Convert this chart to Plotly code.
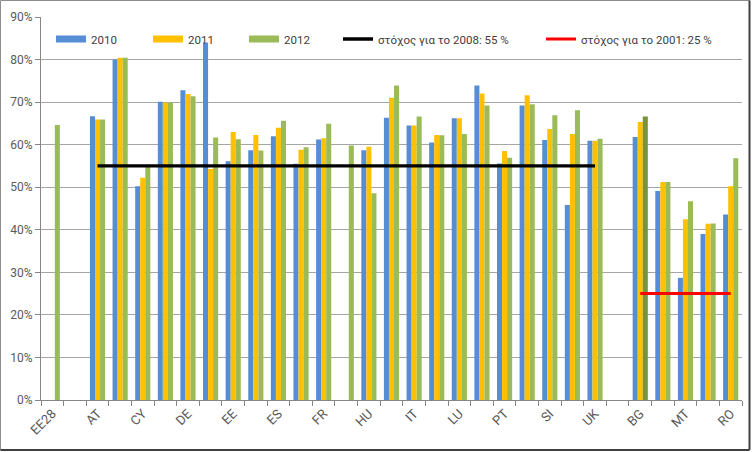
import plotly.graph_objects as go

categories = ["EE28", "gap1", "AT", "BE", "CY", "CZ", "DE", "DK", "EE", "EL", "ES", "FI",
              "FR", "HR", "HU", "IE", "IT", "LT", "LU", "NL", "PT", "SE", "SI", "SK",
              "UK", "gap2", "BG", "LV", "MT", "PL", "RO"]
tick_labels = ["EE28", "", "AT", "", "CY", "", "DE", "", "EE", "", "ES", "", "FR", "",
               "HU", "", "IT", "", "LU", "", "PT", "", "SI", "", "UK", "", "BG", "",
               "MT", "", "RO"]

v2010 = [None, None, 66.7, 80.0, 50.2, 70.1, 72.8, 84.0, 56.1, 58.7, 62.0, 55.5,
         61.2, None, 58.7, 66.3, 64.5, 60.5, 66.2, 73.9, 55.6, 69.2, 61.1, 45.8,
         60.9, None, 61.8, 49.1, 28.7, 39.0, 43.6]
v2011 = [None, None, 65.9, 80.4, 52.2, 69.9, 71.9, 54.3, 63.0, 62.3, 64.0, 58.8,
         61.5, None, 59.5, 71.0, 64.5, 62.3, 66.2, 72.0, 58.5, 71.6, 63.7, 62.5,
         60.9, None, 65.3, 51.2, 42.5, 41.4, 50.2]
v2012 = [64.6, None, 65.9, 80.4, 54.8, 69.9, 71.4, 61.7, 61.3, 58.6, 65.6, 59.4,
         64.9, 59.8, 48.6, 73.9, 66.6, 62.2, 62.5, 69.2, 56.9, 69.5, 66.9, 68.1,
         61.4, None, 66.6, 51.2, 46.7, 41.5, 56.8]

target_2008 = 55
target_2008_countries = categories[categories.index("AT"):categories.index("UK") + 1]
target_2001 = 25
target_2001_countries = categories[categories.index("BG"):categories.index("RO") + 1]

series_names = ["2010", "2011", "2012"]
line_names = ["στόχος για το 2008: 55 %", "στόχος για το 2001: 25 %"]

BLUE = "#558ED5"
YELLOW = "#FFC000"
GREEN = "#9BBB59"
DARKGREEN = "#77933C"

green_colors = [DARKGREEN if c == "BG" else GREEN for c in categories]

FONT = "Roboto"
W, H = 752, 452
ML, MR, MT, MB = 41, 10, 17, 52
PW, PH = W - ML - MR, H - MT - MB

fig = go.Figure()
for name, vals, col in [(series_names[0], v2010, BLUE), (series_names[1], v2011, YELLOW),
                        (series_names[2], v2012, green_colors)]:
    fig.add_trace(go.Bar(x=categories, y=vals, name=name, marker_color=col,
                         marker_line_width=0, showlegend=False))

fig.add_trace(go.Scatter(x=target_2008_countries, y=[target_2008] * len(target_2008_countries),
                         mode="lines", line=dict(color="#000000", width=3.3),
                         showlegend=False))
fig.add_trace(go.Scatter(x=target_2001_countries, y=[target_2001] * len(target_2001_countries),
                         mode="lines", line=dict(color="#FF0000", width=3),
                         showlegend=False))

# legend entries
legend_specs = [
    (series_names[0], BLUE, 7, "legend", 51),
    (series_names[1], YELLOW, 7, "legend2", 148),
    (series_names[2], GREEN, 7, "legend3", 244),
    (line_names[0], "#000000", 3.3, "legend4", 338),
    (line_names[1], "#FF0000", 3, "legend5", 541),
]
layout_legends = {}
for name, col, w, lg, px in legend_specs:
    fig.add_trace(go.Scatter(x=[None], y=[None], mode="lines", name=name,
                             line=dict(color=col, width=w), legend=lg, showlegend=True))
    layout_legends[lg] = dict(x=(px - ML) / PW, y=1 - (39 - MT) / PH, xref="paper", yref="paper",
                              xanchor="left", yanchor="middle", orientation="h",
                              bgcolor="rgba(0,0,0,0)", borderwidth=0,
                              font=dict(family=FONT, size=11.5, color="#404040"),
                              itemwidth=30, tracegroupgap=0)

fig.update_layout(
    width=W, height=H,
    margin=dict(l=ML, r=MR, t=MT, b=MB, autoexpand=False),
    paper_bgcolor="white", plot_bgcolor="white",
    barmode="group", bargap=0.33, bargroupgap=0,
    font=dict(family=FONT, size=12, color="#595959"),
    **layout_legends,
    xaxis=dict(type="category", categoryorder="array", categoryarray=categories,
               tickmode="array", tickvals=categories, ticktext=tick_labels,
               tickangle=-45, tickson="boundaries", ticks="outside", ticklen=5,
               tickcolor="#868686", showline=True, linecolor="#868686", linewidth=1,
               showgrid=False, tickfont=dict(family=FONT, size=13, color="#595959"),
               range=[-0.5, len(categories) - 0.5], automargin=False),
    yaxis=dict(range=[0, 90], dtick=10, ticksuffix="%", showgrid=True,
               gridcolor="#A6A6A6", gridwidth=1, ticks="outside", ticklen=5,
               tickcolor="#868686", showline=True, linecolor="#868686", linewidth=1,
               zeroline=False, tickfont=dict(family=FONT, size=12, color="#595959"),
               automargin=False),
)

# chart border
bx0, bx1 = -(ML - 0.5) / PW, 1 + (MR - 2.5) / PW
by0, by1 = -(MB - 2) / PH, 1 + (MT - 0.5) / PH
fig.add_shape(type="rect", xref="paper", yref="paper", x0=bx0, x1=bx1, y0=by0, y1=by1,
              line=dict(color="#8C8C8C", width=1))
fig.add_shape(type="line", xref="paper", yref="paper", x0=bx0, x1=bx1, y0=by0, y1=by0,
              line=dict(color="#404040", width=2))
fig.add_shape(type="line", xref="paper", yref="paper", x0=bx1, x1=bx1, y0=by0, y1=by1,
              line=dict(color="#404040", width=2))

fig.write_html("out.html", config={"displayModeBar": False},
               post_script="document.body.style.margin='0';")
